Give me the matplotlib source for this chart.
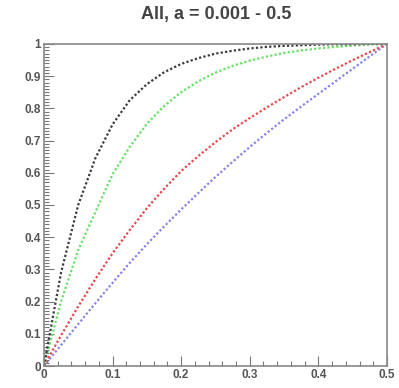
import matplotlib
matplotlib.use('Agg')
import matplotlib.pyplot as plt
from matplotlib.ticker import MultipleLocator

a_vals = [0, 0.025, 0.05, 0.075, 0.1, 0.125, 0.15, 0.175, 0.2, 0.225, 0.25,
          0.275, 0.3, 0.325, 0.35, 0.375, 0.4, 0.425, 0.45, 0.475, 0.5]
curva_preta = [0, 0.29, 0.50, 0.645, 0.75, 0.825, 0.875, 0.912, 0.938, 0.956, 0.970,
               0.979, 0.986, 0.991, 0.994, 0.996, 0.998, 0.999, 0.999, 1.0, 1.0]
curva_verde = [0, 0.20, 0.36, 0.478, 0.595, 0.68, 0.752, 0.807, 0.85, 0.884, 0.911,
               0.932, 0.948, 0.961, 0.972, 0.98, 0.986, 0.991, 0.995, 0.998, 1.0]
curva_vermelha = [0, 0.095, 0.185, 0.27, 0.35, 0.422, 0.49, 0.55, 0.605, 0.652, 0.695,
                  0.735, 0.77, 0.803, 0.835, 0.866, 0.895, 0.923, 0.95, 0.975, 1.0]
curva_azul = [0, 0.065, 0.13, 0.195, 0.258, 0.32, 0.378, 0.433, 0.486, 0.537, 0.587,
              0.634, 0.68, 0.724, 0.766, 0.806, 0.845, 0.884, 0.923, 0.962, 1.0]

x_ticks = [0, 0.1, 0.2, 0.3, 0.4, 0.5]
x_labels = ['0', '0.1', '0.2', '0.3', '0.4', '0.5']
y_ticks = [0, 0.1, 0.2, 0.3, 0.4, 0.5, 0.6, 0.7, 0.8, 0.9, 1.0]
y_labels = ['0', '0.1', '0.2', '0.3', '0.4', '0.5', '0.6', '0.7', '0.8', '0.9', '1']

plt.rcParams['font.family'] = ['Liberation Sans', 'DejaVu Sans']

fig = plt.figure(figsize=(3.99, 3.88), dpi=100)
ax = fig.add_axes([0.110, 0.0567, 0.860, 0.830])

estilo = dict(linestyle=(0, (1, 1)), linewidth=1.6)
ax.plot(a_vals, curva_azul, color='#8585e6', **estilo)
ax.plot(a_vals, curva_vermelha, color='#e44a4a', **estilo)
ax.plot(a_vals, curva_verde, color='#66e066', **estilo)
ax.plot(a_vals, curva_preta, color='#3a3a3a', **estilo)

ax.set_xlim(0, 0.5)
ax.set_ylim(0, 1)

ax.set_xticks(x_ticks)
ax.set_xticklabels(x_labels)
ax.set_yticks(y_ticks)
ax.set_yticklabels(y_labels)
ax.xaxis.set_minor_locator(MultipleLocator(0.02))
ax.yaxis.set_minor_locator(MultipleLocator(0.01))

# Ticks para dentro, estilo ROOT
ax.tick_params(which='both', direction='in', color='#777777', width=0.8,
               top=False, right=False)
ax.tick_params(which='major', length=7, labelsize=8.5, labelcolor='#555555', pad=2)
ax.tick_params(which='minor', length=3.5)
for lab in ax.get_xticklabels() + ax.get_yticklabels():
    lab.set_fontweight('bold')

for lado in ax.spines.values():
    lado.set_color('#888888')
    lado.set_linewidth(1.2)

fig.suptitle('All, a = 0.001 - 0.5', x=0.541, y=0.985, fontsize=13,
             fontweight='bold', color='#444444', va='top')

fig.savefig('out.png', dpi=100)
